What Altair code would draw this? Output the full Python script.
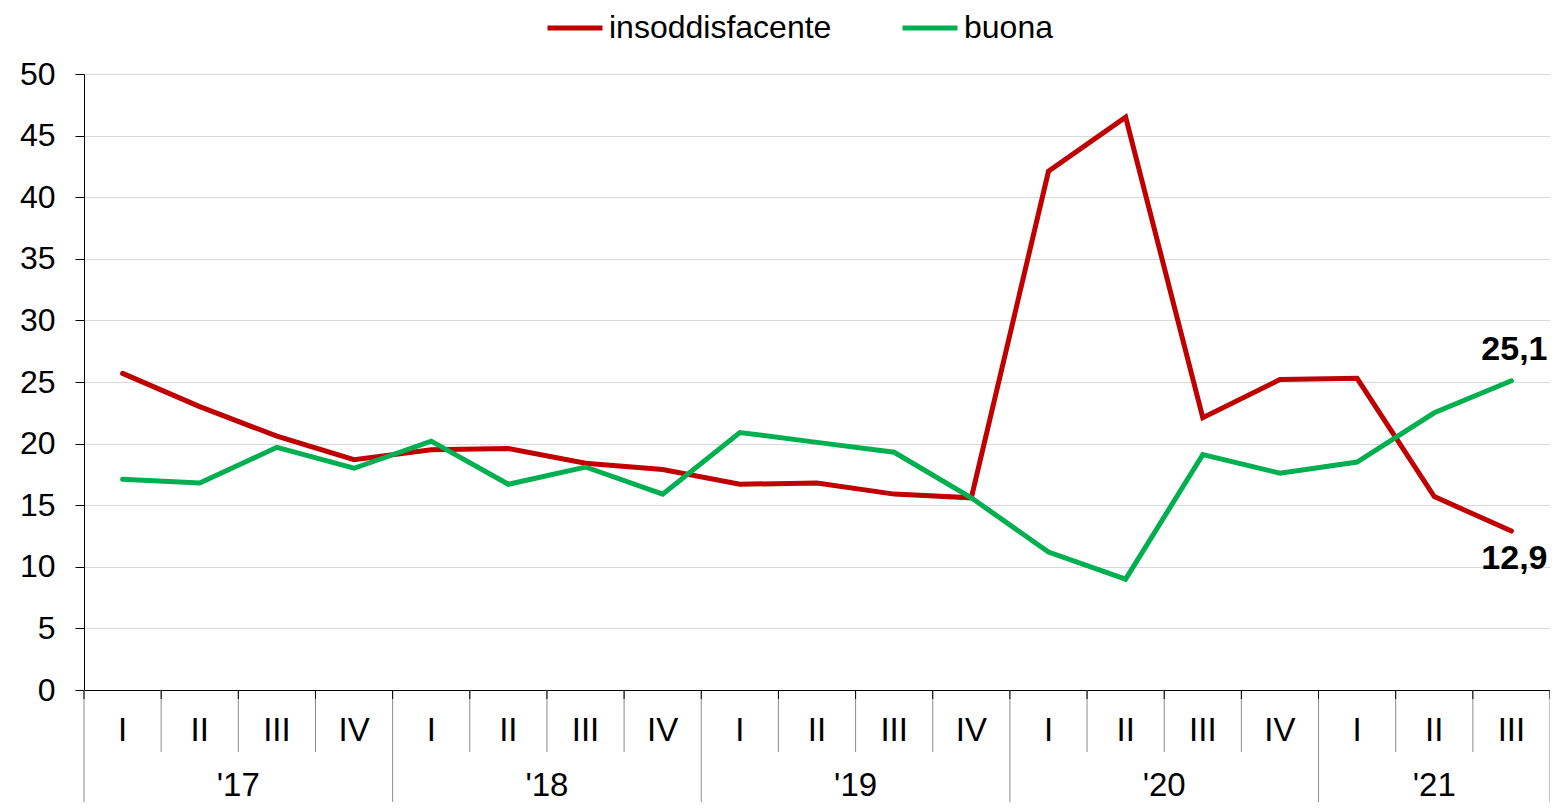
import altair as alt
import pandas as pd

quarters = ["I", "II", "III", "IV"] * 4 + ["I", "II", "III"]
years = ["'17", "'18", "'19", "'20", "'21"]
year_sizes = [4, 4, 4, 4, 3]
series_names = ["insoddisfacente", "buona"]
insoddisfacente = [25.7, 23.0, 20.6, 18.7, 19.5, 19.6, 18.4, 17.9, 16.7, 16.8, 15.9, 15.6,
                   42.1, 46.5, 22.1, 25.2, 25.3, 15.7, 12.9]
buona = [17.1, 16.8, 19.7, 18.0, 20.2, 16.7, 18.1, 15.9, 20.9, 20.1, 19.3, 15.6,
         11.2, 9.0, 19.1, 17.6, 18.5, 22.5, 25.1]
end_labels = ["12,9", "25,1"]

FONT = "Liberation Sans"
RED = "#C00000"
GREEN = "#00B050"
W, H = 1466, 616
n = len(quarters)

rows = []
for i in range(n):
    rows.append({"pos": i + 0.5, "serie": series_names[0], "val": insoddisfacente[i]})
    rows.append({"pos": i + 0.5, "serie": series_names[1], "val": buona[i]})
df = pd.DataFrame(rows)

xscale = alt.Scale(domain=[0, n], nice=False, zero=False)
yscale = alt.Scale(domain=[0, 50], nice=False)

base_x = alt.X("pos:Q", scale=xscale,
               axis=alt.Axis(labels=False, ticks=False, grid=False, title=None,
                             domainColor="black", domainWidth=1))

lines = alt.Chart(df).mark_line(strokeWidth=5, strokeCap="round", strokeJoin="miter").encode(
    x=base_x,
    y=alt.Y("val:Q", scale=yscale,
            axis=alt.Axis(values=list(range(0, 51, 5)), title=None, labelFontSize=32,
                          labelFont=FONT, labelColor="black", tickSize=9, tickColor="black",
                          domainColor="black", labelPadding=20, gridColor="#d9d9d9",
                          gridWidth=1)),
    color=alt.Color("serie:N", scale=alt.Scale(domain=series_names, range=[RED, GREEN]),
                    legend=alt.Legend(orient="none", legendX=461, legendY=-76, direction="horizontal",
                                      title=None, symbolType="stroke", symbolSize=3025,
                                      symbolStrokeWidth=5, labelFontSize=32, labelFont=FONT,
                                      labelColor="black", labelOffset=4, columnPadding=60,
                                      labelLimit=0)),
    order=alt.Order("pos:Q"),
)

# end labels
lab_df = pd.DataFrame({
    "pos": [n - 0.5, n - 0.5],
    "val": [insoddisfacente[-1], buona[-1]],
    "txt": end_labels,
})
lab_low = alt.Chart(lab_df.iloc[[0]]).mark_text(fontSize=34, font=FONT, fontWeight="bold",
                                               dx=3, dy=28, color="black").encode(
    x=alt.X("pos:Q", scale=xscale), y=alt.Y("val:Q", scale=yscale), text="txt:N")
lab_high = alt.Chart(lab_df.iloc[[1]]).mark_text(fontSize=34, font=FONT, fontWeight="bold",
                                                dx=3, dy=-31, color="black").encode(
    x=alt.X("pos:Q", scale=xscale), y=alt.Y("val:Q", scale=yscale), text="txt:N")

# quarter labels
q_df = pd.DataFrame({"pos": [i + 0.5 for i in range(n)], "q": quarters})
q_text = alt.Chart(q_df).mark_text(fontSize=33, font=FONT, color="black", baseline="middle").encode(
    x=alt.X("pos:Q", scale=xscale), y=alt.value(H + 41), text="q:N")

# year labels
y_rows = []
start = 0
bounds = [0]
for y, s in zip(years, year_sizes):
    y_rows.append({"pos": start + s / 2, "yr": y})
    start += s
    bounds.append(start)
y_df = pd.DataFrame(y_rows)
y_text = alt.Chart(y_df).mark_text(fontSize=33, font=FONT, color="black", baseline="middle").encode(
    x=alt.X("pos:Q", scale=xscale), y=alt.value(H + 96), text="yr:N")

# separators
q_sep = pd.DataFrame({"pos": [i for i in range(1, n) if i not in bounds]})
y_sep = pd.DataFrame({"pos": bounds})
q_rules = alt.Chart(q_sep).mark_rule(color="#8c8c8c", strokeWidth=1).encode(
    x=alt.X("pos:Q", scale=xscale), y=alt.value(H), y2=alt.value(H + 62))
y_rules = alt.Chart(y_sep).mark_rule(color="#8c8c8c", strokeWidth=1).encode(
    x=alt.X("pos:Q", scale=xscale), y=alt.value(H), y2=alt.value(H + 130))
all_sep = pd.concat([q_sep, y_sep])
top_ticks = alt.Chart(all_sep).mark_rule(color="black", strokeWidth=1).encode(
    x=alt.X("pos:Q", scale=xscale), y=alt.value(H), y2=alt.value(H + 9))

chart = alt.layer(q_rules, y_rules, top_ticks, lines, lab_low, lab_high, q_text, y_text).properties(
    width=W, height=H,
    autosize=alt.AutoSizeParams(type="none"),
    padding={"left": 76, "top": 66, "right": 0, "bottom": 112},
).configure_view(stroke=None).configure(background="white")

chart.save("out.html", embed_options={"renderer": "svg", "actions": False})
